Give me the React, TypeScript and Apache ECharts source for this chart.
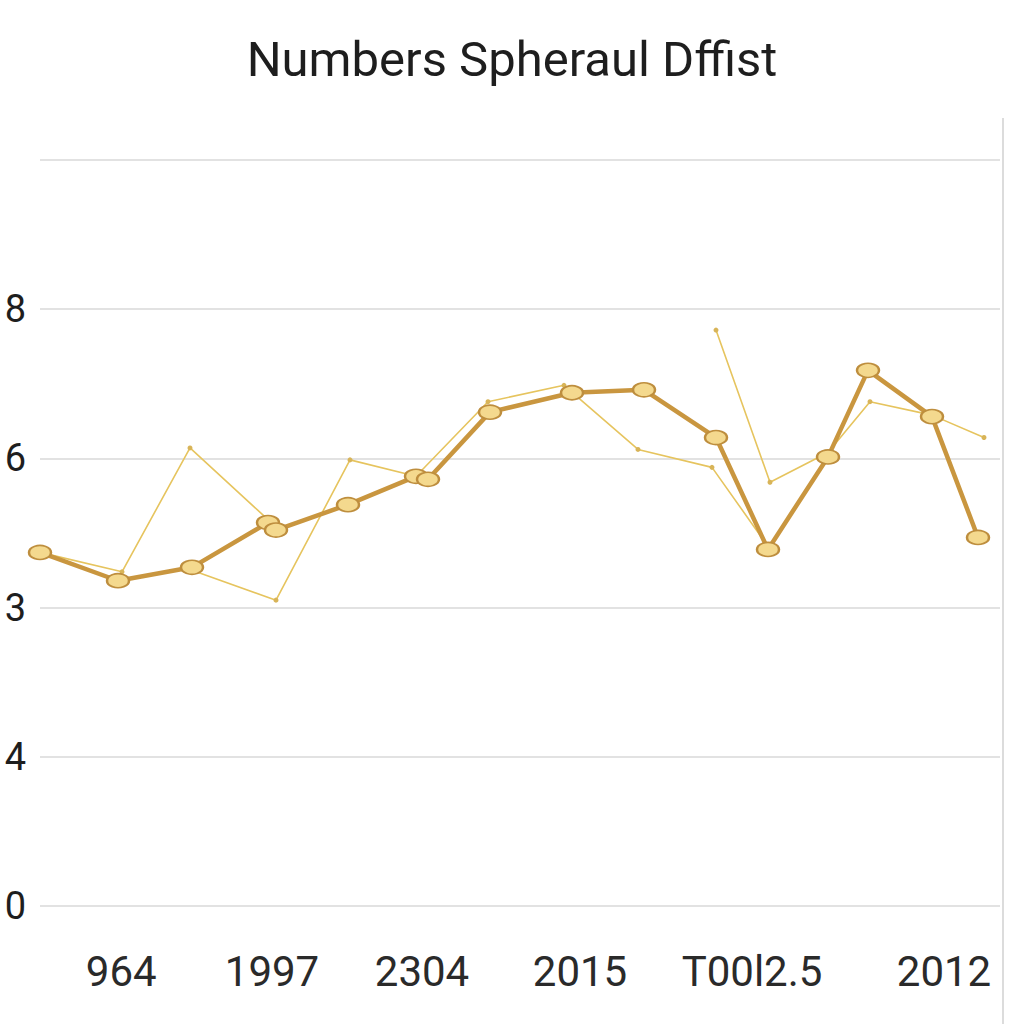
import React, { useEffect, useRef } from "react";
import * as echarts from "echarts";

const titleText = "Numbers Spheraul Dffist";

// y-axis tick labels (values 0..5)
const yTickLabels = ["0", "4", "3", "6", "8", ""];

// x-axis tick positions and labels
const xTickPositions = [2.03, 5.8, 9.55, 13.5, 17.8, 22.6];
const xTickLabels = ["964", "1997", "2304", "2015", "T00l2.5", "2012"];

// main (thick) series
const mainX = [0, 1.95, 3.8, 5.7, 5.9, 7.7, 9.4, 9.7, 11.25, 13.3, 15.1, 16.9, 18.2, 19.7, 20.7, 22.3, 23.45];
const mainY = [2.37, 2.18, 2.27, 2.57, 2.52, 2.69, 2.88, 2.86, 3.31, 3.44, 3.46, 3.14, 2.39, 3.01, 3.59, 3.28, 2.47];

// thin series, segment A
const thinAX = [0, 2.05, 3.75, 5.7];
const thinAY = [2.37, 2.24, 3.07, 2.59];

// thin series, segment B
const thinBX = [3.8, 5.9, 7.75, 9.4, 11.2, 13.1, 14.95, 16.8, 18.2];
const thinBY = [2.25, 2.05, 2.99, 2.88, 3.38, 3.49, 3.06, 2.94, 2.41];

// thin series, segment C
const thinCX = [16.9, 18.25, 19.7, 20.75, 22.3, 23.6];
const thinCY = [3.86, 2.84, 3.04, 3.38, 3.29, 3.14];

const zip = (xs: number[], ys: number[]) => xs.map((x, i) => [x, ys[i]]);

const FONT = "'Liberation Sans Narrow', 'Roboto', sans-serif";

const thinSeries = (name: string, xs: number[], ys: number[]) => ({
  name,
  type: "line",
  data: zip(xs, ys),
  symbol: "circle",
  symbolSize: 5,
  z: 2,
  lineStyle: { color: "#E6C45E", width: 1.6 },
  itemStyle: { color: "#D8B458", borderWidth: 0 },
});

export default function App() {
  const ref = useRef<HTMLDivElement>(null);

  useEffect(() => {
    if (!ref.current) return;
    const chart = echarts.init(ref.current, undefined, { renderer: "svg" });
    chart.setOption({
      animation: false,
      backgroundColor: "#ffffff",
      title: {
        text: titleText,
        left: "center",
        top: 30,
        textStyle: {
          fontFamily: FONT,
          fontSize: 49,
          fontWeight: "normal",
          color: "#1e1e1e",
        },
      },
      grid: { left: 40, right: 24, top: 160, bottom: 118, outerBoundsMode: "none", containLabel: false },
      xAxis: {
        type: "value",
        min: 0,
        max: 24,
        axisLine: { show: false },
        axisTick: { show: false },
        splitLine: { show: false },
        axisLabel: {
          customValues: xTickPositions,
          formatter: (v: number) => {
            let best = 0;
            xTickPositions.forEach((p, i) => {
              if (Math.abs(p - v) < Math.abs(xTickPositions[best] - v)) best = i;
            });
            return xTickLabels[best];
          },
          margin: 44,
          fontFamily: FONT,
          fontSize: 42,
          color: "#2a2a2a",
        },
      },
      yAxis: {
        type: "value",
        min: 0,
        max: 5,
        interval: 1,
        axisLine: { show: false },
        axisTick: { show: false },
        splitLine: { lineStyle: { color: "#e2e2e2", width: 2 } },
        axisLabel: {
          formatter: (v: number) => yTickLabels[Math.round(v)] ?? "",
          margin: 14,
          fontFamily: FONT,
          fontSize: 38,
          color: "#1e1e1e",
        },
      },
      graphic: [
        {
          type: "line",
          shape: { x1: 1003, y1: 118, x2: 1003, y2: 1024 },
          style: { stroke: "#dcdcdc", lineWidth: 2 },
        },
      ],
      series: [
        thinSeries("thinA", thinAX, thinAY),
        thinSeries("thinB", thinBX, thinBY),
        thinSeries("thinC", thinCX, thinCY),
        {
          name: "main",
          type: "line",
          data: zip(mainX, mainY),
          symbol: "circle",
          symbolSize: [22, 14],
          z: 3,
          lineStyle: { color: "#C9963F", width: 4.5 },
          itemStyle: { color: "#F4D98E", borderColor: "#BE8E3E", borderWidth: 2 },
        },
      ],
    });
    return () => chart.dispose();
  }, []);

  return (
    <div
      ref={ref}
      style={{ position: "absolute", left: 0, top: 0, width: 1024, height: 1024 }}
    />
  );
}
